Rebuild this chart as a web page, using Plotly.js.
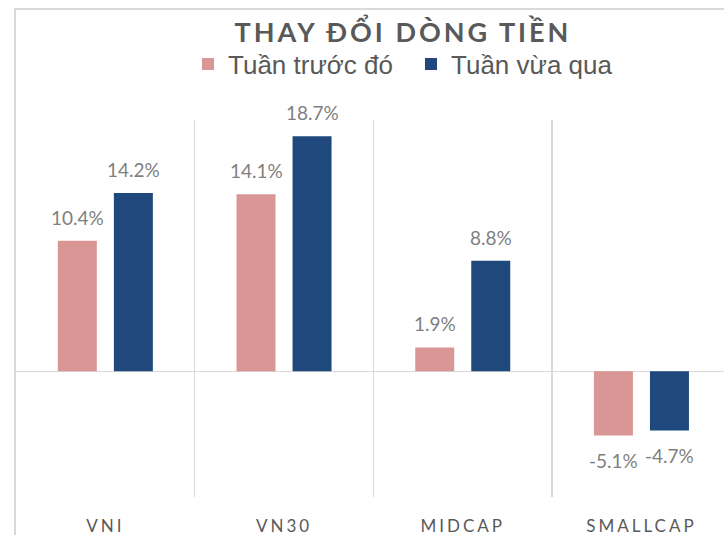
<!DOCTYPE html>
<html>
<head>
<meta charset="utf-8">
<script src="https://cdn.plot.ly/plotly-3.0.1.min.js"></script>
<style>
  html, body { margin: 0; padding: 0; background: #fff; }
  #wrap { position: relative; width: 724px; height: 535px; overflow: hidden; }
  #chart { width: 724px; height: 535px; }
  #frame { position: absolute; left: 14px; top: 8px; width: 720px; height: 540px;
           border-left: 2px solid #d9d9d9; border-top: 2px solid #d9d9d9; pointer-events: none; }
  .gtitle { letter-spacing: 3px; }
  .xtick text { letter-spacing: 3px; }
</style>
</head>
<body>
<div id="wrap">
  <div id="chart"></div>
  <div id="frame"></div>
</div>
<script>
const categories = ['VNI', 'VN30', 'MIDCAP', 'SMALLCAP'];
const prevWeek = [10.4, 14.1, 1.9, -5.1];
const lastWeek = [14.2, 18.7, 8.8, -4.7];
const seriesNames = ['Tuần trước đó', 'Tuần vừa qua'];
const chartTitle = 'THAY ĐỔI DÒNG TIỀN';

const colors = ['#DA9694', '#1F497D'];
const bargap = 0.373;
const bargroupgap = 0.304;

const traces = [prevWeek, lastWeek].map((vals, i) => ({
  type: 'bar',
  name: seriesNames[i],
  x: categories,
  y: vals,
  marker: { color: colors[i] },
  hoverinfo: 'skip'
}));

const annotations = [];
[prevWeek, lastWeek].forEach((vals, i) => {
  const off = (i === 0 ? -1 : 1) * (1 - bargap) / 4;
  vals.forEach((v, j) => {
    annotations.push({
      x: j + off, y: v, xref: 'x', yref: 'y',
      text: v.toFixed(1) + '%',
      showarrow: false,
      yanchor: v >= 0 ? 'bottom' : 'top',
      yshift: v >= 0 ? 10 : -12,
      font: { family: 'Lato', size: 19, color: '#7f7f7f' }
    });
  });
});

const layout = {
  width: 724, height: 535,
  margin: { l: 16, r: 0, t: 120, b: 38, pad: 0 },
  paper_bgcolor: '#ffffff', plot_bgcolor: '#ffffff',
  title: {
    text: '<b>' + chartTitle + '</b>',
    x: 403 / 724, xref: 'container', xanchor: 'center',
    y: 1 - 33 / 535, yref: 'container', yanchor: 'middle',
    font: { family: 'Lato', size: 27, color: '#595959' }
  },
  showlegend: true,
  legend: {
    orientation: 'h',
    xref: 'container', yref: 'container',
    x: 188 / 724, xanchor: 'left',
    y: 1 - 64 / 535, yanchor: 'middle',
    entrywidth: 178,
    font: { family: 'Liberation Sans, Arial', size: 26, color: '#595959' },
    itemclick: false, itemdoubleclick: false,
    traceorder: 'normal'
  },
  barmode: 'group',
  bargap: bargap,
  bargroupgap: bargroupgap,
  xaxis: {
    type: 'category',
    range: [-0.5, 3.462],
    tickson: 'boundaries',
    showgrid: true, gridcolor: '#d9d9d9', gridwidth: 1.5,
    ticks: '', showline: false, zeroline: false,
    ticklabelstandoff: 17,
    tickfont: { family: 'Lato', size: 17, color: '#595959' },
    fixedrange: true
  },
  yaxis: {
    range: [-10, 20],
    showgrid: false, showticklabels: false, ticks: '', showline: false,
    zeroline: true, zerolinecolor: '#d9d9d9', zerolinewidth: 1.5,
    fixedrange: true
  },
  annotations: annotations
};

Plotly.newPlot('chart', traces, layout, { staticPlot: true, displayModeBar: false });
</script>
</body>
</html>
